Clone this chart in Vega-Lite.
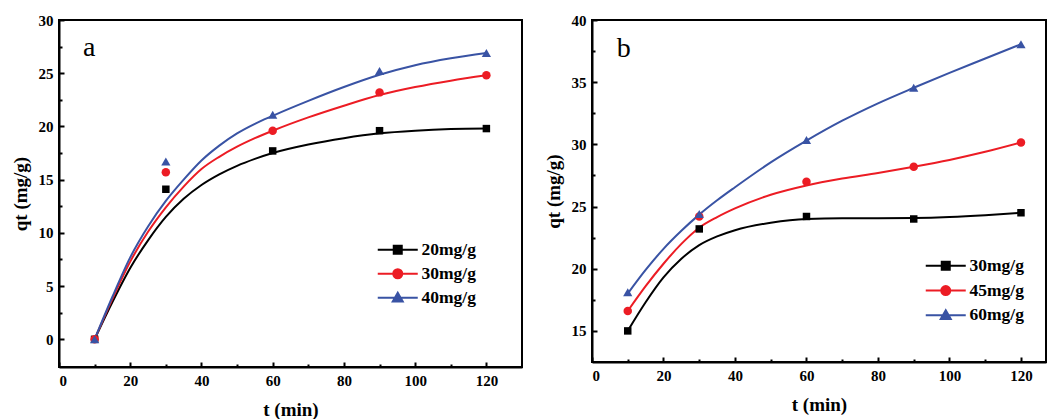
{
  "$schema": "https://vega.github.io/schema/vega-lite/v6.json",
  "background": "white",
  "padding": {"left": 10, "top": 12, "right": 0, "bottom": 0},
  "bounds": "flush",
  "spacing": 70,
  "config": {
    "font": "Liberation Serif",
    "view": {"stroke": "black", "strokeWidth": 2},
    "axis": {
      "grid": false,
      "domainColor": "black", "domainWidth": 2,
      "tickColor": "black", "tickWidth": 2,
      "labelFont": "Liberation Serif", "labelFontSize": 15, "labelFontWeight": "bold", "labelColor": "black",
      "titleFont": "Liberation Serif", "titleFontSize": 19, "titleFontWeight": "bold", "titleColor": "black"
    },
    "legend": {"padding": 0}
  },
  "resolve": {
    "scale": {"x": "independent", "y": "independent", "color": "independent"},
    "legend": {"color": "independent"}
  },
  "datasets": {
    "ca": [
      {"t": 10, "q": 0, "s": "20mg/g"}, {"t": 15, "q": 3.5, "s": "20mg/g"}, {"t": 20, "q": 6.7, "s": "20mg/g"}, {"t": 25, "q": 9.3, "s": "20mg/g"}, {"t": 30, "q": 11.5, "s": "20mg/g"}, {"t": 35, "q": 13.2, "s": "20mg/g"}, {"t": 40, "q": 14.5, "s": "20mg/g"}, {"t": 45, "q": 15.5, "s": "20mg/g"}, {"t": 50, "q": 16.3, "s": "20mg/g"}, {"t": 55, "q": 16.95, "s": "20mg/g"}, {"t": 60, "q": 17.5, "s": "20mg/g"}, {"t": 70, "q": 18.3, "s": "20mg/g"}, {"t": 80, "q": 18.9, "s": "20mg/g"}, {"t": 90, "q": 19.35, "s": "20mg/g"}, {"t": 100, "q": 19.6, "s": "20mg/g"}, {"t": 110, "q": 19.75, "s": "20mg/g"}, {"t": 120, "q": 19.8, "s": "20mg/g"},
      {"t": 10, "q": 0, "s": "30mg/g"}, {"t": 15, "q": 3.8, "s": "30mg/g"}, {"t": 20, "q": 7.3, "s": "30mg/g"}, {"t": 25, "q": 10.1, "s": "30mg/g"}, {"t": 30, "q": 12.4, "s": "30mg/g"}, {"t": 35, "q": 14.35, "s": "30mg/g"}, {"t": 40, "q": 16.0, "s": "30mg/g"}, {"t": 45, "q": 17.15, "s": "30mg/g"}, {"t": 50, "q": 18.1, "s": "30mg/g"}, {"t": 55, "q": 18.9, "s": "30mg/g"}, {"t": 60, "q": 19.6, "s": "30mg/g"}, {"t": 70, "q": 20.85, "s": "30mg/g"}, {"t": 80, "q": 21.95, "s": "30mg/g"}, {"t": 90, "q": 22.95, "s": "30mg/g"}, {"t": 100, "q": 23.7, "s": "30mg/g"}, {"t": 110, "q": 24.3, "s": "30mg/g"}, {"t": 120, "q": 24.8, "s": "30mg/g"},
      {"t": 10, "q": 0, "s": "40mg/g"}, {"t": 15, "q": 4.0, "s": "40mg/g"}, {"t": 20, "q": 7.7, "s": "40mg/g"}, {"t": 25, "q": 10.6, "s": "40mg/g"}, {"t": 30, "q": 13.0, "s": "40mg/g"}, {"t": 35, "q": 15.0, "s": "40mg/g"}, {"t": 40, "q": 16.8, "s": "40mg/g"}, {"t": 45, "q": 18.2, "s": "40mg/g"}, {"t": 50, "q": 19.35, "s": "40mg/g"}, {"t": 55, "q": 20.25, "s": "40mg/g"}, {"t": 60, "q": 21.0, "s": "40mg/g"}, {"t": 70, "q": 22.4, "s": "40mg/g"}, {"t": 80, "q": 23.7, "s": "40mg/g"}, {"t": 90, "q": 24.85, "s": "40mg/g"}, {"t": 100, "q": 25.75, "s": "40mg/g"}, {"t": 110, "q": 26.4, "s": "40mg/g"}, {"t": 120, "q": 26.9, "s": "40mg/g"}
    ],
    "pa": [
      {"t": 10, "q": 0, "s": "20mg/g"}, {"t": 30, "q": 14.1, "s": "20mg/g"}, {"t": 60, "q": 17.7, "s": "20mg/g"}, {"t": 90, "q": 19.6, "s": "20mg/g"}, {"t": 120, "q": 19.8, "s": "20mg/g"},
      {"t": 10, "q": 0, "s": "30mg/g"}, {"t": 30, "q": 15.7, "s": "30mg/g"}, {"t": 60, "q": 19.6, "s": "30mg/g"}, {"t": 90, "q": 23.2, "s": "30mg/g"}, {"t": 120, "q": 24.8, "s": "30mg/g"},
      {"t": 10, "q": 0, "s": "40mg/g"}, {"t": 30, "q": 16.7, "s": "40mg/g"}, {"t": 60, "q": 21.1, "s": "40mg/g"}, {"t": 90, "q": 25.2, "s": "40mg/g"}, {"t": 120, "q": 26.9, "s": "40mg/g"}
    ],
    "cb": [
      {"t": 10, "q": 15.0, "s": "30mg/g"}, {"t": 15, "q": 17.3, "s": "30mg/g"}, {"t": 20, "q": 19.3, "s": "30mg/g"}, {"t": 25, "q": 20.8, "s": "30mg/g"}, {"t": 30, "q": 21.9, "s": "30mg/g"}, {"t": 35, "q": 22.6, "s": "30mg/g"}, {"t": 40, "q": 23.1, "s": "30mg/g"}, {"t": 50, "q": 23.7, "s": "30mg/g"}, {"t": 60, "q": 24.0, "s": "30mg/g"}, {"t": 70, "q": 24.05, "s": "30mg/g"}, {"t": 80, "q": 24.05, "s": "30mg/g"}, {"t": 90, "q": 24.07, "s": "30mg/g"}, {"t": 100, "q": 24.15, "s": "30mg/g"}, {"t": 110, "q": 24.3, "s": "30mg/g"}, {"t": 120, "q": 24.5, "s": "30mg/g"},
      {"t": 10, "q": 16.6, "s": "45mg/g"}, {"t": 15, "q": 18.6, "s": "45mg/g"}, {"t": 20, "q": 20.4, "s": "45mg/g"}, {"t": 25, "q": 22.0, "s": "45mg/g"}, {"t": 30, "q": 23.3, "s": "45mg/g"}, {"t": 35, "q": 24.15, "s": "45mg/g"}, {"t": 40, "q": 24.85, "s": "45mg/g"}, {"t": 50, "q": 25.95, "s": "45mg/g"}, {"t": 60, "q": 26.7, "s": "45mg/g"}, {"t": 70, "q": 27.25, "s": "45mg/g"}, {"t": 80, "q": 27.7, "s": "45mg/g"}, {"t": 90, "q": 28.2, "s": "45mg/g"}, {"t": 100, "q": 28.75, "s": "45mg/g"}, {"t": 110, "q": 29.4, "s": "45mg/g"}, {"t": 120, "q": 30.15, "s": "45mg/g"},
      {"t": 10, "q": 18.0, "s": "60mg/g"}, {"t": 15, "q": 19.9, "s": "60mg/g"}, {"t": 20, "q": 21.6, "s": "60mg/g"}, {"t": 25, "q": 23.05, "s": "60mg/g"}, {"t": 30, "q": 24.35, "s": "60mg/g"}, {"t": 35, "q": 25.5, "s": "60mg/g"}, {"t": 40, "q": 26.55, "s": "60mg/g"}, {"t": 50, "q": 28.55, "s": "60mg/g"}, {"t": 60, "q": 30.3, "s": "60mg/g"}, {"t": 70, "q": 31.9, "s": "60mg/g"}, {"t": 80, "q": 33.3, "s": "60mg/g"}, {"t": 90, "q": 34.55, "s": "60mg/g"}, {"t": 100, "q": 35.75, "s": "60mg/g"}, {"t": 110, "q": 36.9, "s": "60mg/g"}, {"t": 120, "q": 38.05, "s": "60mg/g"}
    ],
    "pb": [
      {"t": 10, "q": 15.0, "s": "30mg/g"}, {"t": 30, "q": 23.2, "s": "30mg/g"}, {"t": 60, "q": 24.2, "s": "30mg/g"}, {"t": 90, "q": 24.0, "s": "30mg/g"}, {"t": 120, "q": 24.5, "s": "30mg/g"},
      {"t": 10, "q": 16.6, "s": "45mg/g"}, {"t": 30, "q": 24.2, "s": "45mg/g"}, {"t": 60, "q": 27.0, "s": "45mg/g"}, {"t": 90, "q": 28.2, "s": "45mg/g"}, {"t": 120, "q": 30.15, "s": "45mg/g"},
      {"t": 10, "q": 18.1, "s": "60mg/g"}, {"t": 30, "q": 24.4, "s": "60mg/g"}, {"t": 60, "q": 30.35, "s": "60mg/g"}, {"t": 90, "q": 34.55, "s": "60mg/g"}, {"t": 120, "q": 38.05, "s": "60mg/g"}
    ],
    "la": [{"t": 8.45, "q": 26.6, "label": "a"}],
    "lb": [{"t": 8.9, "q": 37.0, "label": "b"}]
  },
  "hconcat": [
    {
      "width": 463,
      "height": 347,
      "encoding": {
        "x": {"field": "t", "type": "quantitative", "scale": {"domain": [0, 130], "nice": false, "zero": false},
          "axis": {"title": "t (min)", "values": [0, 10, 20, 30, 40, 50, 60, 70, 80, 90, 100, 110, 120], "format": "d",
            "labelExpr": "datum.value % 20 === 0 ? datum.label : ''",
            "tickSize": {"condition": {"test": "datum.value % 20 === 0", "value": -5}, "value": -3},
            "labelPadding": 11, "titlePadding": 12}},
        "y": {"field": "q", "type": "quantitative", "scale": {"domain": [-2.6, 30], "nice": false, "zero": false},
          "axis": {"title": "qt (mg/g)", "values": [0, 2.5, 5, 7.5, 10, 12.5, 15, 17.5, 20, 22.5, 25, 27.5, 30], "format": "d",
            "labelExpr": "datum.value % 5 === 0 ? datum.label : ''",
            "tickSize": {"condition": {"test": "datum.value % 5 === 0", "value": -5}, "value": -3},
            "labelPadding": 11, "titlePadding": 8}}
      },
      "layer": [
        {
          "data": {"name": "ca"},
          "mark": {"type": "line", "interpolate": "monotone", "strokeWidth": 2},
          "encoding": {
            "color": {"field": "s", "type": "nominal",
              "scale": {"domain": ["20mg/g", "30mg/g", "40mg/g"], "range": ["#000000", "#ec1c24", "#3953a4"]},
              "legend": {"orient": "none", "legendX": 315, "legendY": 221, "title": null,
                "labelFont": "Liberation Serif", "labelFontSize": 17.5, "labelFontWeight": "bold", "labelColor": "black",
                "symbolSize": 100, "symbolStrokeWidth": 2, "labelOffset": 30, "rowPadding": 5,
                "symbolType": {"expr": "datum.value === '20mg/g' ? 'M-1,0H7M2.2,-0.8H3.8V0.8H2.2Z' : datum.value === '30mg/g' ? 'M-1,0H7M2.1,0A0.9,0.9,0,1,1,3.9,0A0.9,0.9,0,1,1,2.1,0Z' : 'M-1,0H7M3,-1L4,0.75H2Z'"},
                "symbolFillColor": {"expr": "datum.value === '20mg/g' ? '#000000' : datum.value === '30mg/g' ? '#ec1c24' : '#3953a4'"}
              }},
            "detail": {"field": "s"}
          }
        },
        {
          "data": {"name": "pa"},
          "transform": [{"filter": "datum.s === '20mg/g'"}],
          "mark": {"type": "point", "filled": true, "opacity": 1, "shape": "square", "size": 56, "color": "#000000"}
        },
        {
          "data": {"name": "pa"},
          "transform": [{"filter": "datum.s === '30mg/g'"}],
          "mark": {"type": "point", "filled": true, "opacity": 1, "shape": "circle", "size": 72, "color": "#ec1c24"}
        },
        {
          "data": {"name": "pa"},
          "transform": [{"filter": "datum.s === '40mg/g'"}],
          "mark": {"type": "point", "filled": true, "opacity": 1, "shape": "triangle-up", "size": 85, "color": "#3953a4"}
        },
        {
          "data": {"name": "la"},
          "mark": {"type": "text", "font": "Liberation Serif", "fontSize": 28, "align": "center", "baseline": "alphabetic", "color": "black"},
          "encoding": {"text": {"field": "label"}}
        }
      ]
    },
    {
      "width": 454,
      "height": 342,
      "encoding": {
        "x": {"field": "t", "type": "quantitative", "scale": {"domain": [0, 127], "nice": false, "zero": false},
          "axis": {"title": "t (min)", "values": [0, 10, 20, 30, 40, 50, 60, 70, 80, 90, 100, 110, 120], "format": "d",
            "labelExpr": "datum.value % 20 === 0 ? datum.label : ''",
            "tickSize": {"condition": {"test": "datum.value % 20 === 0", "value": -5}, "value": -3},
            "labelPadding": 11, "titlePadding": 12}},
        "y": {"field": "q", "type": "quantitative", "scale": {"domain": [12.5, 40], "nice": false, "zero": false},
          "axis": {"title": "qt (mg/g)", "values": [15, 17.5, 20, 22.5, 25, 27.5, 30, 32.5, 35, 37.5, 40], "format": "d",
            "labelExpr": "datum.value % 5 === 0 ? datum.label : ''",
            "tickSize": {"condition": {"test": "datum.value % 5 === 0", "value": -5}, "value": -3},
            "labelPadding": 11, "titlePadding": 8}}
      },
      "layer": [
        {
          "data": {"name": "cb"},
          "mark": {"type": "line", "interpolate": "monotone", "strokeWidth": 2},
          "encoding": {
            "color": {"field": "s", "type": "nominal",
              "scale": {"domain": ["30mg/g", "45mg/g", "60mg/g"], "range": ["#000000", "#ec1c24", "#3953a4"]},
              "legend": {"orient": "none", "legendX": 330, "legendY": 237, "title": null,
                "labelFont": "Liberation Serif", "labelFontSize": 17.5, "labelFontWeight": "bold", "labelColor": "black",
                "symbolSize": 100, "symbolStrokeWidth": 2, "labelOffset": 30, "rowPadding": 5.8,
                "symbolType": {"expr": "datum.value === '30mg/g' ? 'M-1,0H7M2.2,-0.8H3.8V0.8H2.2Z' : datum.value === '45mg/g' ? 'M-1,0H7M2.1,0A0.9,0.9,0,1,1,3.9,0A0.9,0.9,0,1,1,2.1,0Z' : 'M-1,0H7M3,-1L4,0.75H2Z'"},
                "symbolFillColor": {"expr": "datum.value === '30mg/g' ? '#000000' : datum.value === '45mg/g' ? '#ec1c24' : '#3953a4'"}
              }},
            "detail": {"field": "s"}
          }
        },
        {
          "data": {"name": "pb"},
          "transform": [{"filter": "datum.s === '30mg/g'"}],
          "mark": {"type": "point", "filled": true, "opacity": 1, "shape": "square", "size": 56, "color": "#000000"}
        },
        {
          "data": {"name": "pb"},
          "transform": [{"filter": "datum.s === '45mg/g'"}],
          "mark": {"type": "point", "filled": true, "opacity": 1, "shape": "circle", "size": 72, "color": "#ec1c24"}
        },
        {
          "data": {"name": "pb"},
          "transform": [{"filter": "datum.s === '60mg/g'"}],
          "mark": {"type": "point", "filled": true, "opacity": 1, "shape": "triangle-up", "size": 85, "color": "#3953a4"}
        },
        {
          "data": {"name": "lb"},
          "mark": {"type": "text", "font": "Liberation Serif", "fontSize": 28, "align": "center", "baseline": "alphabetic", "color": "black"},
          "encoding": {"text": {"field": "label"}}
        }
      ]
    }
  ]
}
